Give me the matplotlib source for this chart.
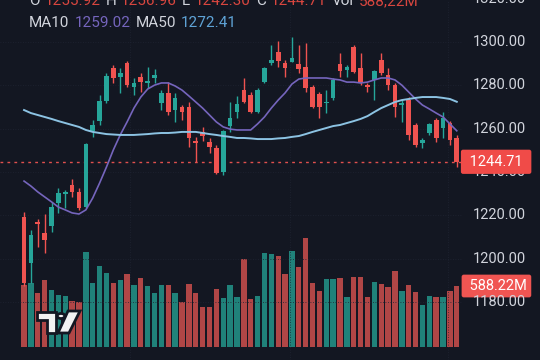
import numpy as np
import matplotlib.pyplot as plt
from matplotlib.patches import Polygon, Circle

plt.rcParams['font.family'] = ['Roboto', 'DejaVu Sans']

# OHLC (64 daily bars)
opens = [1219.2, 1198.0, 1216.9, 1211.8, 1215.1, 1225.7, 1229.8, 1234.0, 1230.8, 1223.8,
         1258.9, 1263.5, 1272.8, 1288.0, 1283.8, 1290.3, 1279.2, 1283.8, 1281.1, 1283.4,
         1271.8, 1276.5, 1268.6, 1270.0, 1270.0, 1254.3, 1258.5, 1253.8, 1251.1, 1240.0,
         1261.2, 1267.7, 1277.8, 1275.5, 1267.7, 1281.5, 1290.3, 1295.4, 1290.3, 1290.8,
         1289.8, 1288.5, 1279.2, 1276.0, 1271.8, 1274.2, 1289.8, 1287.1, 1297.7, 1288.0,
         1280.1, 1282.5, 1291.7, 1284.8, 1280.1, 1270.9, 1273.2, 1261.7, 1253.4, 1258.0,
         1264.0, 1260.3, 1262.6, 1255.92]
highs = [1221.5, 1213.2, 1218.3, 1220.6, 1226.2, 1232.6, 1231.7, 1236.8, 1232.6, 1253.4,
         1264.0, 1275.5, 1285.7, 1289.4, 1288.0, 1291.2, 1283.4, 1285.7, 1288.5, 1287.5,
         1277.8, 1281.5, 1276.5, 1270.9, 1272.3, 1256.2, 1260.8, 1255.7, 1252.5, 1259.4,
         1272.3, 1275.1, 1283.4, 1276.9, 1278.8, 1288.5, 1298.6, 1300.5, 1291.7, 1302.3,
         1298.6, 1299.5, 1280.1, 1276.9, 1277.8, 1283.4, 1294.9, 1289.4, 1298.6, 1294.9,
         1281.1, 1287.1, 1294.9, 1288.0, 1281.1, 1273.2, 1274.6, 1262.6, 1255.7, 1262.6,
         1264.9, 1267.7, 1263.5, 1256.96]
lows = [1187.4, 1188.8, 1205.4, 1202.6, 1212.3, 1221.1, 1223.4, 1228.5, 1222.5, 1223.4,
        1256.2, 1261.7, 1271.8, 1281.1, 1276.5, 1279.2, 1275.5, 1276.9, 1278.8, 1281.1,
        1268.6, 1266.3, 1263.1, 1264.0, 1251.5, 1244.6, 1254.3, 1248.8, 1239.1, 1238.6,
        1258.5, 1264.9, 1271.8, 1267.2, 1267.2, 1281.1, 1289.4, 1288.5, 1283.8, 1290.8,
        1285.7, 1276.9, 1269.5, 1264.9, 1267.2, 1273.2, 1283.8, 1283.8, 1285.7, 1280.1,
        1276.9, 1273.2, 1284.8, 1277.8, 1265.4, 1263.1, 1254.8, 1251.5, 1251.1, 1257.1,
        1253.8, 1255.7, 1252.5, 1242.30]
closes = [1188.8, 1210.9, 1216.0, 1208.6, 1223.8, 1230.3, 1230.8, 1230.8, 1223.4, 1252.9,
          1261.7, 1272.8, 1284.3, 1283.4, 1285.7, 1280.1, 1281.1, 1281.5, 1282.0, 1284.8,
          1276.5, 1267.7, 1274.2, 1267.7, 1255.7, 1253.4, 1256.6, 1251.5, 1239.5, 1258.9,
          1264.9, 1271.4, 1272.3, 1267.7, 1277.8, 1288.0, 1291.7, 1291.2, 1288.0, 1292.6,
          1287.5, 1278.8, 1270.0, 1270.0, 1272.3, 1282.5, 1286.6, 1288.5, 1286.2, 1281.1,
          1279.2, 1286.6, 1285.7, 1280.1, 1270.0, 1271.8, 1257.1, 1252.5, 1254.8, 1262.2,
          1255.7, 1264.9, 1254.8, 1244.71]
# volume in millions
volumes = [598, 617, 521, 646, 549, 501, 492, 443, 434, 916,
           617, 781, 713, 617, 646, 704, 598, 665, 588, 521,
           598, 598, 521, 434, 607, 521, 386, 386, 559, 472,
           598, 482, 848, 463, 492, 906, 897, 877, 704, 925,
           771, 1051, 617, 540, 656, 656, 665, 482, 675, 675,
           482, 627, 607, 578, 733, 540, 598, 530, 405, 492,
           482, 482, 540, 588.22]
ma10 = [1235.8, 1233.5, 1230.8, 1228.5, 1226.2, 1223.8, 1222.5, 1221.1, 1220.6, 1222.5,
        1228.0, 1234.9, 1242.3, 1250.2, 1257.1, 1263.1, 1269.5, 1274.6, 1278.3, 1280.1,
        1281.1, 1281.1, 1279.7, 1277.8, 1275.1, 1272.3, 1269.5, 1266.3, 1263.1, 1260.8,
        1259.8, 1259.4, 1259.4, 1259.4, 1262.2, 1265.4, 1269.5, 1273.2, 1276.5, 1280.6,
        1282.9, 1283.4, 1283.4, 1283.4, 1283.4, 1282.9, 1282.5, 1281.5, 1281.5, 1281.1,
        1281.5, 1282.5, 1283.4, 1283.4, 1282.5, 1280.1, 1276.9, 1273.7, 1270.9, 1269.1,
        1267.2, 1265.4, 1262.2, 1259.02]
ma50 = [1268.6, 1267.2, 1266.3, 1265.4, 1264.5, 1263.5, 1262.6, 1261.7, 1260.8, 1259.4,
        1258.5, 1258.0, 1257.5, 1257.3, 1257.1, 1257.1, 1257.1, 1257.3, 1257.5, 1257.8,
        1258.0, 1258.0, 1258.2, 1258.5, 1258.5, 1258.5, 1258.0, 1257.5, 1257.1, 1256.6,
        1256.2, 1255.7, 1255.7, 1255.5, 1255.2, 1255.2, 1255.2, 1255.5, 1255.7, 1256.2,
        1256.6, 1257.5, 1258.5, 1259.4, 1260.3, 1261.2, 1261.7, 1262.6, 1263.5, 1264.5,
        1265.8, 1267.7, 1269.5, 1270.9, 1272.3, 1273.2, 1273.7, 1274.2, 1274.6, 1274.6,
        1274.6, 1274.2, 1273.7, 1272.41]
price_ticks = [1180, 1200, 1220, 1240, 1260, 1280, 1300, 1320]

BG = '#131722'
UP, DOWN = '#26a69a', '#ef5350'
VOL_UP, VOL_DOWN = '#20827a', '#b04646'
TXT = '#d1d4dc'

o, h, l, c = map(np.array, (opens, highs, lows, closes))
x = np.arange(len(c))
up = c >= o

fig = plt.figure(figsize=(5.4, 3.6), dpi=100, facecolor=BG)
ax = fig.add_axes([0, 0, 462 / 540, 1])
vax = ax.twinx()
# volume behind the candles
vax.set_zorder(ax.get_zorder() - 1)
ax.patch.set_visible(False)
vax.set_facecolor(BG)

ax.set_xlim(-3.5, 63.76)
ax.set_ylim(1153.2, 1319.4)
vax.set_ylim(-125, 3345)
for a in (ax, vax):
    for s in a.spines.values():
        s.set_visible(False)
    a.tick_params(left=False, right=False, bottom=False, labelleft=False,
                  labelright=False, labelbottom=False)

# faint grid
for v in price_ticks:
    ax.axhline(v, color='#1f2433', lw=0.6, ls=(0, (1, 2)), zorder=0)
for gx in [15.4, 38.7, 61.7]:
    ax.axvline(gx, color='#1f2433', lw=0.6, ls=(0, (1, 2)), zorder=0)

# volume
vax.bar(x, volumes, width=0.78, color=np.where(up, VOL_UP, VOL_DOWN))

# candles
cols = np.where(up, UP, DOWN)
ax.vlines(x, l, h, colors=cols, lw=1, zorder=2)
ax.bar(x, np.maximum(np.abs(c - o), 0.5), bottom=np.minimum(o, c), width=0.68,
       color=cols, zorder=3)

# moving averages
ax.plot(x, ma10, color='#7565bd', lw=1.2, zorder=4)
ax.plot(x, ma50, color='#8cc3e3', lw=1.4, zorder=4)

# last price line
ax.axhline(c[-1], color='#e0504e', lw=1, ls=(0, (2, 3)), zorder=1)

# price scale
dx = 11 / 462
for v in price_ticks:
    ax.text(1 + dx, v, f'{v:.2f}', transform=ax.get_yaxis_transform(), ha='left',
            va='center', color=TXT, fontsize=10.5, clip_on=False)
ax.text(1 + 4 / 462, c[-1], f' {c[-1]:.2f} ', transform=ax.get_yaxis_transform(),
        ha='left', va='center', color='white', fontsize=10.5, clip_on=False, zorder=6,
        bbox=dict(boxstyle='round,pad=0.35,rounding_size=0.15', fc='#f04b48', ec='none'))
vax.text(1 + 4 / 462, volumes[-1], f' {volumes[-1]:.2f}M', transform=vax.get_yaxis_transform(),
         ha='left', va='center', color='white', fontsize=10.5, clip_on=False, zorder=6,
         bbox=dict(boxstyle='round,pad=0.3,rounding_size=0.15', fc='#f05552', ec='none'))

# header legend
rend = fig.canvas.get_renderer()


def text_row(y_px, parts, size=11):
    xp = 29
    for s, col in parts:
        t = fig.text(xp / 540, 1 - y_px / 360, s, color=col, fontsize=size,
                     ha='left', va='baseline')
        xp += t.get_window_extent(rend).width + 5


RED = '#d8463f'
text_row(5, [('O', TXT), (f'{o[-1]:.2f}', RED), ('H', TXT), (f'{h[-1]:.2f}', RED),
             ('L', TXT), (f'{l[-1]:.2f}', RED), ('C', TXT), (f'{c[-1]:.2f}', RED),
             ('Vol', TXT), (f'{volumes[-1]:.2f}M'.replace('.', ','), RED)])
text_row(27, [('MA10', TXT), (f'{ma10[-1]:.2f}', '#7565bd'),
              ('MA50', TXT), (f'{ma50[-1]:.2f}', '#5fa3d6')])

# TradingView logo
def px(xp, yp):
    return (xp / 540, 1 - yp / 360)


logo_kw = dict(transform=fig.transFigure, fc='#f2f2f2', ec=BG, lw=2, zorder=10)
fig.patches.append(Polygon([px(37, 312), px(56, 312), px(56, 333), px(47, 333),
                            px(47, 320), px(37, 320)], **logo_kw))
fig.patches.append(Polygon([px(68, 311), px(80, 311), px(69, 333), px(58, 333)], **logo_kw))
fig.patches.append(Circle(px(61, 316), 3.8 / 540, **logo_kw))

fig.savefig('out.png', dpi=100, facecolor=BG)
